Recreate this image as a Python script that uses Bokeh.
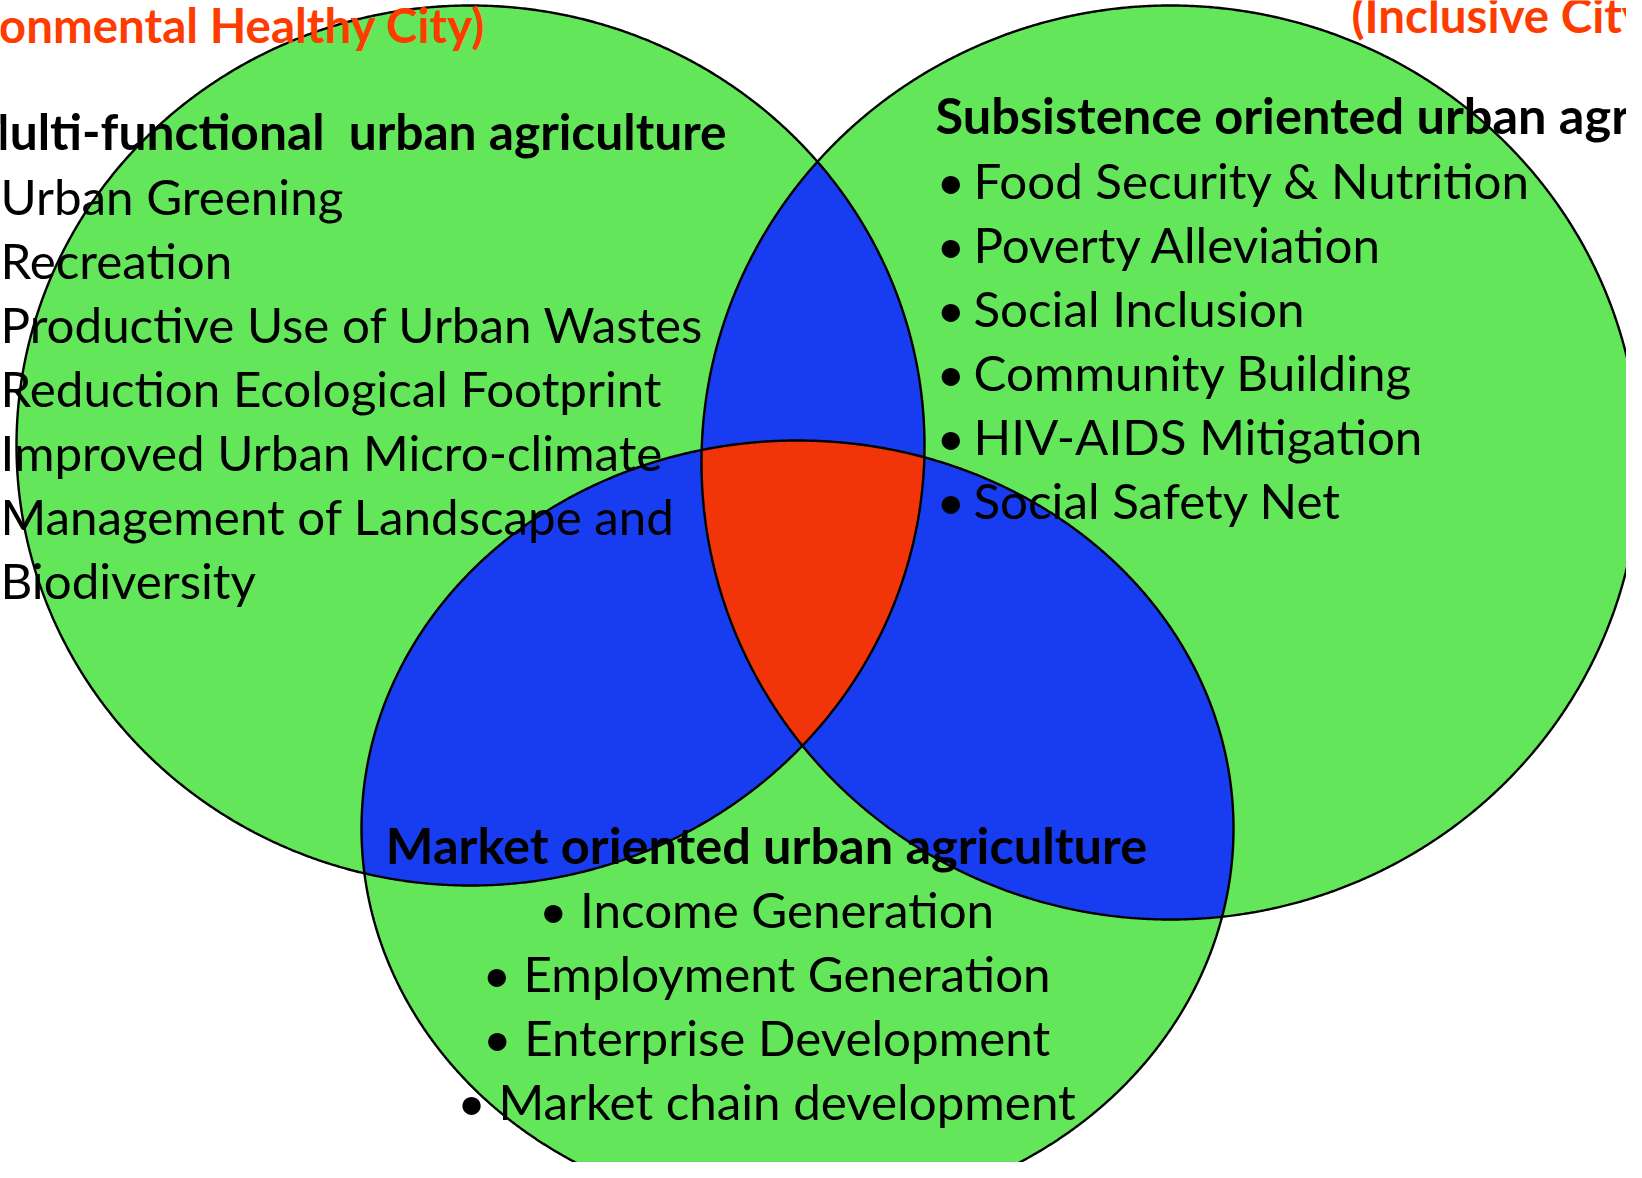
import numpy as np
from bokeh.plotting import figure
from bokeh.models import Range1d
from bokeh.core.properties import value
from bokeh.embed import file_html
from bokeh.resources import INLINE

# ---- data -------------------------------------------------------------
set_names = ["Environmental", "Inclusive", "Productive"]
ell_cx = [470, 1170, 797]
ell_cy = [445, 462, 828]
ell_rx = [454, 469, 436]
ell_ry = [440, 457, 388]

left_title = "(Environmental Healthy City)"
left_head = "Multi-functional\u00a0 urban agriculture"
left_items = ["Urban Greening", "Recreation", "Productive Use of Urban Wastes",
              "Reduction Ecological Footprint", "Improved Urban Micro-climate",
              "Management of Landscape and", "Biodiversity"]

right_title = "(Inclusive City)"
right_head = "Subsistence oriented urban agriculture"
right_items = ["Food Security & Nutrition", "Poverty Alleviation", "Social Inclusion",
               "Community Building", "HIV-AIDS Mitigation", "Social Safety Net"]

bottom_head = "Market oriented urban agriculture"
bottom_items = ["Income Generation", "Employment Generation",
                "Enterprise Development", "Market chain development"]
bottom_title = "ECONOMIC"

GREEN = "#63E65A"
BLUE = "#183CF0"
RED = "#F23508"
TITLE_RED = "#FF3C00"
FONT = "Lato"

# ---- geometry helpers ---------------------------------------------------
def boundary(i, n=1440):
    t = np.linspace(0, 2 * np.pi, n, endpoint=False)
    return ell_cx[i] + ell_rx[i] * np.cos(t), ell_cy[i] + ell_ry[i] * np.sin(t)

def inside(i, x, y):
    return ((x - ell_cx[i]) / ell_rx[i]) ** 2 + ((y - ell_cy[i]) / ell_ry[i]) ** 2 <= 1.0

def region(members):
    xs, ys = [], []
    for i in members:
        bx, by = boundary(i)
        m = np.ones_like(bx, dtype=bool)
        for j in members:
            if j != i:
                m &= inside(j, bx, by)
        xs.append(bx[m]); ys.append(by[m])
    x = np.concatenate(xs); y = np.concatenate(ys)
    mx, my = x.mean(), y.mean()
    order = np.argsort(np.arctan2(y - my, x - mx))
    return list(x[order]), list(y[order])

# ---- figure -------------------------------------------------------------
W, H = 1626, 1162
p = figure(width=W, height=H, x_range=Range1d(0, W), y_range=Range1d(H, 0),
           x_axis_type=None, y_axis_type=None, toolbar_location=None,
           output_backend="svg", min_border=0)
p.grid.visible = False
p.outline_line_color = None
p.background_fill_color = "white"
p.border_fill_color = "white"

n = len(ell_cx)
full = [boundary(i) for i in range(n)]
p.patches([list(b[0]) for b in full], [list(b[1]) for b in full],
          fill_color=GREEN, line_color=None)

pairs = [(0, 1), (0, 2), (1, 2)]
pair_regions = [region(pr) for pr in pairs]
p.patches([r[0] for r in pair_regions], [r[1] for r in pair_regions],
          fill_color=BLUE, line_color=None)

tri = region((0, 1, 2))
p.patch(tri[0], tri[1], fill_color=RED, line_color=None)

p.multi_line([list(b[0]) + [b[0][0]] for b in full],
             [list(b[1]) + [b[1][0]] for b in full],
             line_color="black", line_width=2.4)

DY = -20  # baseline correction for text rendering

def txt(x, y, s, size, bold=False, color="black", align="left"):
    p.text(x=[x], y=[y + DY], text=[s], text_font=value(FONT),
           text_font_size=f"{size}px", text_font_style="bold" if bold else "normal",
           text_color=color, text_align=align, text_baseline="alphabetic")

SZ = 49.3
SZB = 50.5
SZT = 47.5
LH = 64
# left set
txt(485, 44, left_title, SZT, True, TITLE_RED, "right")
txt(726, 150, left_head, 49.7, True, "black", "right")
for k, s in enumerate(left_items):
    txt(0, 215 + LH * k, s, SZ)
# right set
txt(1351, 34, right_title, SZT, True, TITLE_RED)
txt(935, 134, right_head, SZB, True)
for k, s in enumerate(right_items):
    txt(936, 199 + LH * k, "\u2022", SZ)
    txt(973, 199 + LH * k, s, SZ)
# bottom set
txt(766, 864, bottom_head, SZB, True, "black", "center")
for k, s in enumerate(bottom_items):
    txt(766, 928 + LH * k, "\u2022 " + s, SZ, False, "black", "center")
txt(777, 1214, bottom_title, SZB, True, TITLE_RED, "center")

open("out.html", "w").write(file_html(p, INLINE))
